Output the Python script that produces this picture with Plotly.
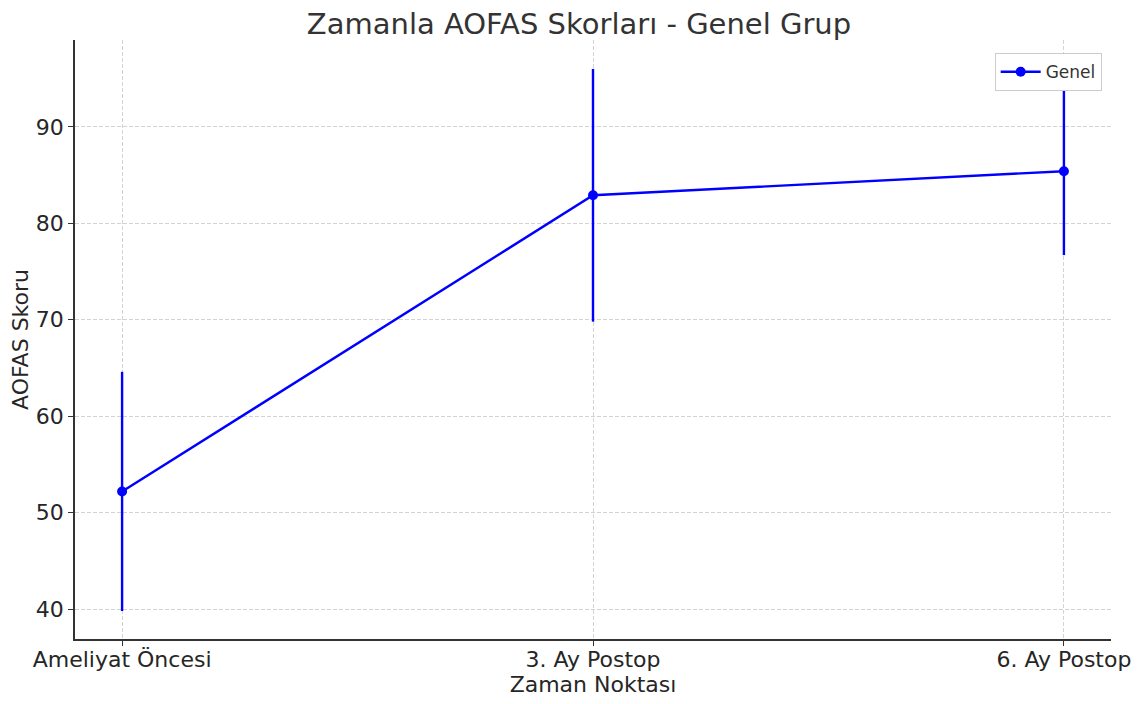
import plotly.graph_objects as go

categories = ["Ameliyat Öncesi", "3. Ay Postop", "6. Ay Postop"]
means = [52.2, 82.9, 85.4]
sds = [12.4, 13.1, 8.7]

fig = go.Figure()
fig.add_trace(go.Scatter(
    x=[0, 1, 2], y=means, mode="lines+markers", name="Genel",
    line=dict(color="#0000ff", width=2.4),
    marker=dict(color="#0000ff", size=10),
    error_y=dict(type="data", array=sds, visible=True, color="#0000ff", thickness=2.4, width=0),
))

fig.update_layout(
    width=1142, height=704,
    margin=dict(l=67, r=39, t=32, b=73),
    paper_bgcolor="white", plot_bgcolor="white",
    font=dict(family="DejaVu Sans", color="#262626", size=22),
    title=dict(text="Zamanla AOFAS Skorları - Genel Grup", x=0.5, xanchor="center",
               y=0.978, yanchor="middle", font=dict(size=29, color="#333333")),
    showlegend=True,
    legend=dict(x=0.991, y=0.978, xanchor="right", yanchor="top",
                bgcolor="white", bordercolor="#cccccc", borderwidth=1,
                itemwidth=40,
                font=dict(size=17, color="#333333")),
    xaxis=dict(
        range=[-0.1, 2.1], tickvals=[0, 1, 2], ticktext=categories,
        showgrid=True, gridcolor="#d3d3d3", griddash="4px,2px", gridwidth=1,
        showline=True, linecolor="#333333", linewidth=1.5,
        ticks="outside", ticklen=5, tickcolor="#333333",
        zeroline=False, tickfont=dict(size=22), automargin=False,
        ticklabelstandoff=-5,
        title=dict(text="Zaman Noktası", font=dict(size=22), standoff=4),
    ),
    yaxis=dict(
        range=[36.9, 99.0], tickvals=[40, 50, 60, 70, 80, 90],
        showgrid=True, gridcolor="#d3d3d3", griddash="4px,2px", gridwidth=1,
        showline=True, linecolor="#333333", linewidth=1.5,
        ticks="outside", ticklen=5, tickcolor="#333333",
        zeroline=False, tickfont=dict(size=22), automargin=False,
        title=dict(text="AOFAS Skoru", font=dict(size=22), standoff=8),
    ),
)

fig.write_html("out.html")
